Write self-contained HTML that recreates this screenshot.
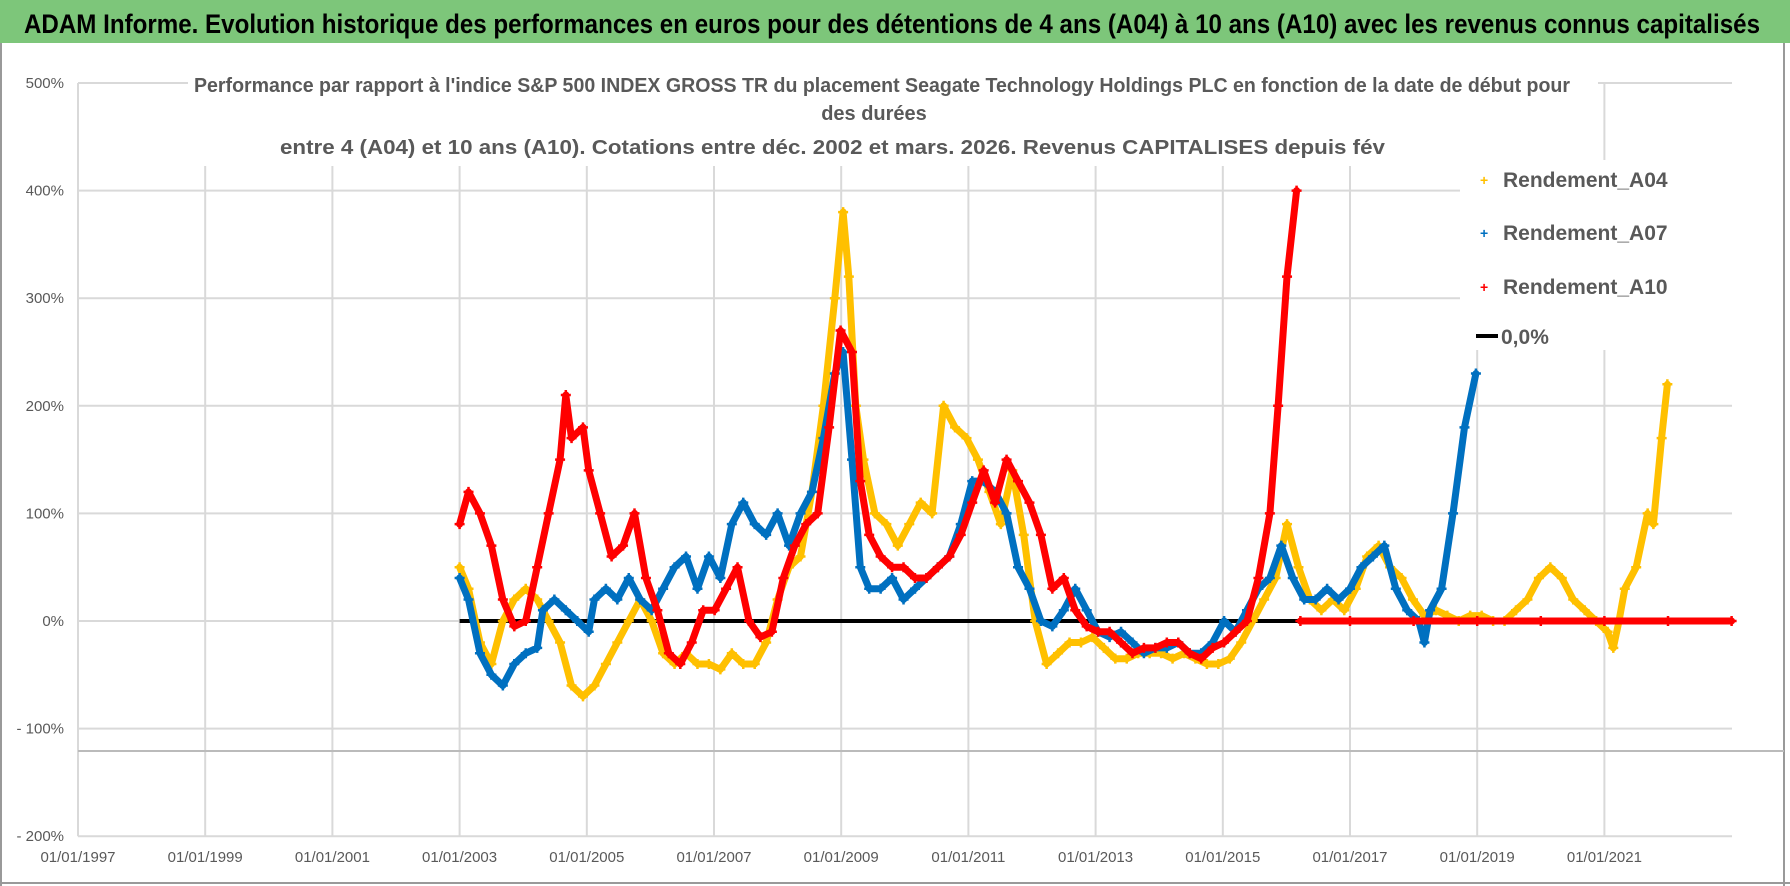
<!DOCTYPE html>
<html><head><meta charset="utf-8"><style>
html,body{margin:0;padding:0;background:#fff;}
svg{display:block;font-family:"Liberation Sans",sans-serif;}
</style></head><body>
<svg id="chart" width="1790" height="886" viewBox="0 0 1790 886" xmlns="http://www.w3.org/2000/svg">
<rect x="0" y="0" width="1790" height="886" fill="#fff"/>
<rect x="0" y="0" width="1790" height="43" fill="#7DC67A"/>
<text x="24" y="33" font-size="27" font-weight="bold" fill="#000" textLength="1736" lengthAdjust="spacingAndGlyphs">ADAM Informe. Evolution historique des performances en euros pour des détentions de 4 ans (A04) à 10 ans (A10) avec les revenus connus capitalisés</text>
<line x1="1784" y1="43" x2="1784" y2="886" stroke="#999" stroke-width="2"/>
<line x1="1" y1="43" x2="1" y2="886" stroke="#999" stroke-width="2"/>
<line x1="0" y1="883" x2="1790" y2="883" stroke="#999" stroke-width="2"/>
<g id="grid"></g>
<line x1="78" y1="751" x2="1784" y2="751" stroke="#bbb" stroke-width="2"/>
<g id="series"></g>
<rect x="188" y="66" width="1410" height="100" fill="#fff"/>
<g font-size="20" font-weight="bold" fill="#595959">
<text x="194" y="92" textLength="1376" lengthAdjust="spacingAndGlyphs">Performance par rapport à l'indice S&amp;P 500 INDEX GROSS TR  du placement Seagate Technology Holdings PLC en fonction de la date de début pour</text>
<text x="874" y="120" text-anchor="middle">des durées</text>
<text x="280" y="154" textLength="1105" lengthAdjust="spacingAndGlyphs">entre 4 (A04) et 10 ans (A10).  Cotations entre déc. 2002 et mars. 2026. Revenus CAPITALISES depuis fév</text>
</g>
<rect x="1460" y="160" width="280" height="190" fill="#fff"/>
<g id="legend" font-size="21" font-weight="bold" fill="#595959">
<g><text x="1480" y="185" fill="#FFC000" font-size="14">+</text><text x="1503" y="187">Rendement_A04</text></g>
<g><text x="1480" y="238" fill="#0070C0" font-size="14">+</text><text x="1503" y="240">Rendement_A07</text></g>
<g><text x="1480" y="292" fill="#FF0000" font-size="14">+</text><text x="1503" y="294">Rendement_A10</text></g>
<g><line x1="1476" y1="336" x2="1498" y2="336" stroke="#000" stroke-width="4"/><text x="1501" y="344">0,0%</text></g>
</g>
</svg>
<script>
const yTicks=[500,400,300,200,100,0,-100,-200];
const yTickLabels=["500%","400%","300%","200%","100%","0%","- 100%","- 200%"];
const xTicks=[1997,1999,2001,2003,2005,2007,2009,2011,2013,2015,2017,2019,2021];
const xTickLabels=["01/01/1997","01/01/1999","01/01/2001","01/01/2003","01/01/2005","01/01/2007","01/01/2009","01/01/2011","01/01/2013","01/01/2015","01/01/2017","01/01/2019","01/01/2021"];
const zeroStart=2003.0, zeroEnd=2016.2;
const a04Dates=[2003.00,2003.14,2003.32,2003.50,2003.68,2003.86,2004.04,2004.22,2004.40,2004.58,2004.76,2004.94,2005.12,2005.30,2005.48,2005.66,2005.84,2006.02,2006.20,2006.38,2006.56,2006.74,2006.92,2007.10,2007.28,2007.46,2007.64,2007.82,2008.00,2008.18,2008.36,2008.54,2008.72,2008.90,2009.03,2009.12,2009.23,2009.35,2009.53,2009.71,2009.89,2010.07,2010.25,2010.43,2010.61,2010.79,2010.97,2011.15,2011.33,2011.51,2011.69,2011.87,2012.05,2012.23,2012.41,2012.59,2012.77,2012.95,2013.13,2013.31,2013.49,2013.67,2013.85,2014.03,2014.21,2014.39,2014.57,2014.75,2014.93,2015.11,2015.29,2015.47,2015.65,2015.83,2016.01,2016.19,2016.37,2016.55,2016.73,2016.91,2017.09,2017.27,2017.45,2017.63,2017.81,2017.99,2018.17,2018.35,2018.53,2018.71,2018.89,2019.07,2019.25,2019.43,2019.61,2019.79,2019.97,2020.15,2020.33,2020.51,2020.69,2020.87,2021.05,2021.14,2021.23,2021.32,2021.50,2021.68,2021.77,2021.90,2021.99];
const a04Values=[50,30,-20,-40,0,20,30,20,0,-20,-60,-70,-60,-40,-20,0,20,0,-30,-40,-30,-40,-40,-45,-30,-40,-40,-20,20,50,60,120,200,300,380,320,200,150,100,90,70,90,110,100,200,180,170,150,120,90,140,80,0,-40,-30,-20,-20,-15,-25,-35,-35,-30,-30,-30,-35,-30,-35,-40,-40,-35,-20,0,20,40,90,50,20,10,20,10,30,60,70,50,40,20,5,10,5,0,5,5,0,0,10,20,40,50,40,20,10,0,-10,-25,0,30,50,100,90,170,220];
const a07Dates=[2003.00,2003.14,2003.32,2003.50,2003.68,2003.86,2004.04,2004.22,2004.31,2004.49,2004.67,2004.85,2005.03,2005.12,2005.30,2005.48,2005.66,2005.84,2006.02,2006.20,2006.38,2006.56,2006.74,2006.92,2007.10,2007.28,2007.46,2007.64,2007.82,2008.00,2008.18,2008.36,2008.54,2008.72,2008.90,2009.03,2009.17,2009.30,2009.44,2009.62,2009.80,2009.98,2010.16,2010.34,2010.52,2010.70,2010.88,2011.06,2011.24,2011.42,2011.60,2011.78,2011.96,2012.14,2012.32,2012.50,2012.68,2012.86,2013.04,2013.22,2013.40,2013.58,2013.76,2013.94,2014.12,2014.30,2014.48,2014.66,2014.84,2015.02,2015.20,2015.38,2015.56,2015.74,2015.92,2016.10,2016.28,2016.46,2016.64,2016.82,2017.00,2017.18,2017.36,2017.54,2017.72,2017.90,2018.08,2018.17,2018.26,2018.44,2018.62,2018.80,2018.98];
const a07Values=[40,20,-30,-50,-60,-40,-30,-25,10,20,10,0,-10,20,30,20,40,20,10,30,50,60,30,60,40,90,110,90,80,100,70,100,120,170,230,250,150,50,30,30,40,20,30,40,50,60,90,130,130,120,100,50,30,0,-5,10,30,10,-10,-15,-10,-20,-30,-25,-25,-20,-30,-30,-20,0,-10,10,30,40,70,40,20,20,30,20,30,50,60,70,30,10,0,-20,10,30,100,180,230];
const a10Dates=[2003.00,2003.14,2003.32,2003.50,2003.68,2003.86,2004.04,2004.22,2004.40,2004.58,2004.67,2004.76,2004.94,2005.03,2005.21,2005.39,2005.57,2005.75,2005.93,2006.11,2006.29,2006.47,2006.65,2006.83,2007.01,2007.19,2007.37,2007.55,2007.73,2007.91,2008.09,2008.27,2008.45,2008.63,2008.81,2008.99,2009.17,2009.30,2009.44,2009.62,2009.80,2009.98,2010.16,2010.34,2010.52,2010.70,2010.88,2011.06,2011.24,2011.42,2011.60,2011.78,2011.96,2012.14,2012.32,2012.50,2012.68,2012.86,2013.04,2013.22,2013.40,2013.58,2013.76,2013.94,2014.12,2014.30,2014.48,2014.66,2014.84,2015.02,2015.20,2015.38,2015.56,2015.74,2015.87,2016.01,2016.16,2016.18,2016.22,2017.0,2018.0,2019.0,2020.0,2021.0,2022.0,2023.0];
const a10Values=[90,120,100,70,20,-5,0,50,100,150,210,170,180,140,100,60,70,100,40,10,-30,-40,-20,10,10,30,50,0,-15,-10,40,70,90,100,180,270,250,130,80,60,50,50,40,40,50,60,80,110,140,110,150,130,110,80,30,40,10,-5,-10,-10,-20,-30,-25,-25,-20,-20,-30,-35,-25,-20,-10,0,40,100,200,320,400,null,0,0,0,0,0,0,0,0];

const NS="http://www.w3.org/2000/svg";
const X0=78, XS=63.6, Y0=621, YS=1.076;
function xScale(d){return X0+(d-1997)*XS;}
function yScale(v){return Y0-v*YS;}
function mk(tag,attrs,parent){const e=document.createElementNS(NS,tag);for(const k in attrs)e.setAttribute(k,attrs[k]);parent.appendChild(e);return e;}
const grid=document.getElementById('grid');
yTicks.forEach((t,i)=>{
  const l=mk('line',{x1:X0,x2:1732,y1:yScale(t),y2:yScale(t),stroke:'#d9d9d9','stroke-width':2},grid);
  
  
  const tx=mk('text',{x:64,y:yScale(t)+5,'text-anchor':'end','font-size':15,fill:'#595959'},grid);
  tx.textContent=yTickLabels[i];
  
  
});
xTicks.forEach((t,i)=>{
  const l=mk('line',{x1:xScale(t),x2:xScale(t),y1:yScale(500),y2:yScale(-200),stroke:'#d9d9d9','stroke-width':2},grid);
  
  
  const tx=mk('text',{x:xScale(t),y:862,'text-anchor':'middle','font-size':15,fill:'#595959'},grid);
  tx.textContent=xTickLabels[i];
  
  
});
const series=document.getElementById('series');
const z=mk('line',{x1:xScale(zeroStart),x2:xScale(zeroEnd),y1:yScale(0),y2:yScale(0),stroke:'#000','stroke-width':4},series);


function drawSeries(dates,vals,color,name){
  const g=mk('g',{},series);
  
  
  let d='',pen=false;
  dates.forEach((dt,i)=>{
    const v=vals[i];
    if(v===null){pen=false;return;}
    d+=(pen?'L':'M')+xScale(dt).toFixed(1)+' '+yScale(v).toFixed(1)+' ';
    pen=true;
  });
  mk('path',{d:d,fill:'none',stroke:color,'stroke-width':7,'stroke-linejoin':'round','stroke-linecap':'round'},g);
  dates.forEach((dt,i)=>{
    const v=vals[i];
    if(v===null)return;
    const x=xScale(dt),y=yScale(v);
    const p=mk('path',{d:`M${x-5} ${y}H${x+5}M${x} ${y-5}V${y+5}`,stroke:color,'stroke-width':2.5},g);
    
    
  });
}
drawSeries(a04Dates,a04Values,'#FFC000','series-a04');
drawSeries(a07Dates,a07Values,'#0070C0','series-a07');
drawSeries(a10Dates,a10Values,'#FF0000','series-a10');
</script>
</body></html>
